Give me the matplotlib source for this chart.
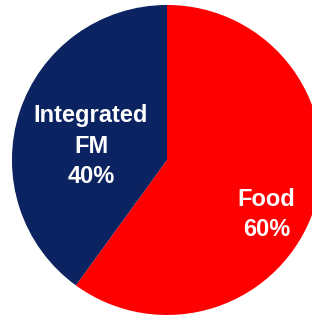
import matplotlib.pyplot as plt

# data
segments = ['Food', 'Integrated\nFM']
shares = [60, 40]
colors = ['#fe0000', '#0b2361']

# label anchor spots inside each wedge (data units, pie radius = 1)
label_pos = [(0.64, -0.35), (-0.49, 0.09)]

fig = plt.figure(figsize=(3.12, 3.17), dpi=100)
ax = fig.add_axes([0, 0, 1, 1])

wedges, _ = ax.pie(shares, colors=colors, startangle=90, counterclock=False,
                   radius=1.0, wedgeprops=dict(linewidth=0))

for name, val, (x, y) in zip(segments, shares, label_pos):
    ax.text(x, y, f'{name}\n{val}%', ha='center', va='center', color='white',
            fontsize=17, fontweight='bold', family='Liberation Sans',
            linespacing=1.4)

ax.set_xlim(-1.077, 0.935)
ax.set_ylim(-1.013, 1.032)
ax.set_aspect('auto')
ax.axis('off')

fig.savefig('out.png', dpi=100)
